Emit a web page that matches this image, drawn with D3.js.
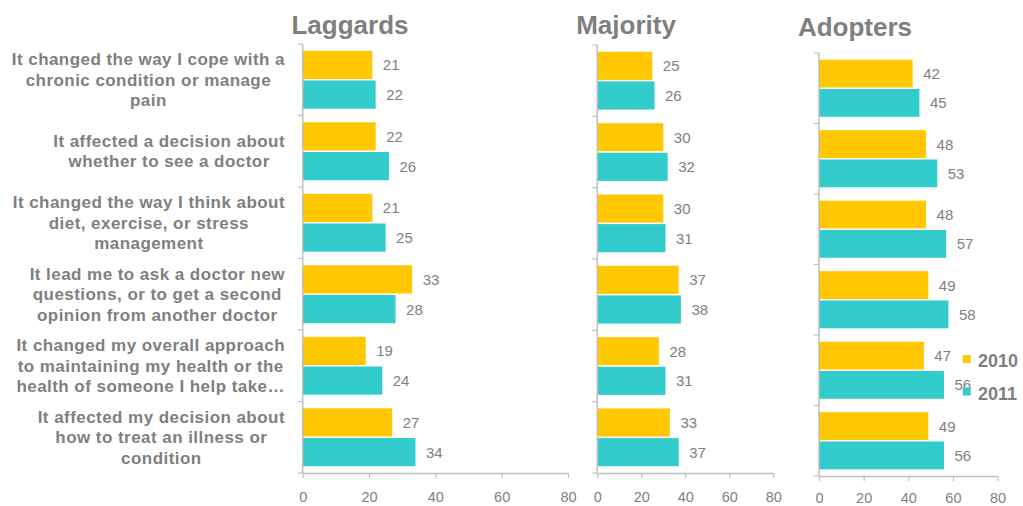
<!DOCTYPE html>
<html>
<head>
<meta charset="utf-8">
<script src="https://cdn.jsdelivr.net/npm/d3@7"></script>
<style>
  html, body { margin: 0; padding: 0; background: #ffffff; }
  svg { display: block; font-family: "Liberation Sans", Arial, sans-serif; }
</style>
</head>
<body>
<svg id="chart" width="1023" height="506"></svg>
<script>
// ---------- DATA ----------
const categories = [
  "It changed the way I cope with a chronic condition or manage pain",
  "It affected a decision about whether to see a doctor",
  "It changed the way I think about diet, exercise, or stress management",
  "It lead me to ask a doctor new questions, or to get a second opinion from another doctor",
  "It changed my overall approach to maintaining my health or the health of someone I help take…",
  "It affected my decision about how to treat an illness or condition"
];
const categoryLines = [
  ["It changed the way I cope with a", "chronic condition or manage", "pain"],
  ["It affected a decision about", "whether to see a doctor"],
  ["It changed the way I think about", "diet, exercise, or stress", "management"],
  ["It lead me to ask a doctor new", "questions, or to get a second", "opinion from another doctor"],
  ["It changed my overall approach", "to maintaining my health or the", "health of someone I help take…"],
  ["It affected my decision about", "how to treat an illness or", "condition"]
];
const seriesNames = ["2010", "2011"];
const groups = ["Laggards", "Majority", "Adopters"];
const laggards2010 = [21, 22, 21, 33, 19, 27];
const laggards2011 = [22, 26, 25, 28, 24, 34];
const majority2010 = [25, 30, 30, 37, 28, 33];
const majority2011 = [26, 32, 31, 38, 31, 37];
const adopters2010 = [42, 48, 48, 49, 47, 49];
const adopters2011 = [45, 53, 57, 58, 56, 56];
const xTicks = [0, 20, 40, 60, 80];

// ---------- LAYOUT / STYLE ----------
const colors = { "2010": "#FFC800", "2011": "#33CCCC" };
const textGray = "#7f7f7f";
const axisGray = "#bfbfbf";
const panelLayout = [
  { x0: 302.7, x1: 568.0, y0: 44, y1: 473, titleX: 350, titleY: 34, tickPad: 14 },
  { x0: 597.3, x1: 773.3, y0: 45, y1: 473, titleX: 626, titleY: 34, tickPad: 14 },
  { x0: 819.0, x1: 997.5, y0: 53, y1: 476, titleX: 855, titleY: 36, tickPad: 12 }
];
const panelValues = [
  [laggards2010, laggards2011],
  [majority2010, majority2011],
  [adopters2010, adopters2011]
];

const svg = d3.select("#chart");

panelLayout.forEach((p, pi) => {
  const g = svg.append("g");
  const x = d3.scaleLinear().domain([0, 80]).range([p.x0, p.x1]);
  const y = d3.scaleBand().domain(categories).range([p.y0, p.y1])
    .paddingInner(0.19).paddingOuter(0.095);
  const ys = d3.scaleBand().domain(seriesNames).range([0, y.bandwidth()]).paddingInner(0.05);

  // title
  g.append("text")
    .attr("x", p.titleX).attr("y", p.titleY)
    .attr("text-anchor", "middle")
    .attr("font-size", 26).attr("font-weight", "bold")
    .attr("fill", textGray)
    .text(groups[pi]);

  // bars
  const rows = [];
  categories.forEach((c, ci) => {
    seriesNames.forEach((s, si) => {
      rows.push({ cat: c, series: s, value: panelValues[pi][si][ci] });
    });
  });

  g.selectAll("rect.bar").data(rows).enter().append("rect")
    .attr("class", "bar")
    .attr("x", x(0))
    .attr("y", d => y(d.cat) + ys(d.series))
    .attr("width", d => x(d.value) - x(0))
    .attr("height", ys.bandwidth())
    .attr("fill", d => colors[d.series]);

  g.selectAll("text.val").data(rows).enter().append("text")
    .attr("class", "val")
    .attr("x", d => x(d.value) + 10.5)
    .attr("y", d => y(d.cat) + ys(d.series) + ys.bandwidth() / 2)
    .attr("dy", "0.36em")
    .attr("font-size", 15)
    .attr("fill", textGray)
    .text(d => d.value);

  // x axis
  const xAxis = d3.axisBottom(x).tickValues(xTicks).tickSize(5).tickSizeOuter(0).tickPadding(p.tickPad);
  const xg = g.append("g").attr("transform", `translate(0,${p.y1})`).call(xAxis);
  xg.select(".domain").attr("stroke", axisGray).attr("stroke-width", 1.5);
  xg.selectAll(".tick line").attr("stroke", axisGray).attr("stroke-width", 1.2);
  xg.selectAll(".tick text").attr("fill", textGray).attr("font-size", 14.5)
    .attr("font-family", "'Liberation Sans', Arial, sans-serif");

  // y axis line with boundary ticks (between categories)
  g.append("line")
    .attr("x1", x(0)).attr("x2", x(0))
    .attr("y1", p.y0).attr("y2", p.y1)
    .attr("stroke", axisGray).attr("stroke-width", 1.5);
  const boundaries = d3.range(categories.length + 1).map(i => p.y0 + i * y.step());
  g.selectAll("line.ytick").data(boundaries).enter().append("line")
    .attr("class", "ytick")
    .attr("x1", x(0) - 5).attr("x2", x(0))
    .attr("y1", d => d).attr("y2", d => d)
    .attr("stroke", axisGray).attr("stroke-width", 1.2);

  // category labels only for the first panel
  if (pi === 0) {
    const rightEdge = 285;
    const lineH = 20.5;
    const lg = svg.append("g").attr("font-size", 17).attr("font-weight", "bold")
      .attr("fill", textGray).attr("letter-spacing", "0.45px");
    categories.forEach((c, ci) => {
      const lines = categoryLines[ci];
      const cy = y(c) + y.bandwidth() / 2;
      const block = lg.append("text").attr("text-anchor", "middle");
      const tspans = lines.map((ln, li) => block.append("tspan")
        .attr("y", cy + (li - (lines.length - 1) / 2) * lineH)
        .attr("dy", "0.35em")
        .text(ln));
      let maxW = 0;
      tspans.forEach(t => { maxW = Math.max(maxW, t.node().getComputedTextLength()); });
      tspans.forEach(t => t.attr("x", rightEdge - maxW / 2));
    });
  }
});

// legend
const legend = svg.append("g");
const legendItems = [
  { name: "2010", sy: 355, ty: 367 },
  { name: "2011", sy: 387.5, ty: 400 }
];
legendItems.forEach(it => {
  legend.append("rect").attr("x", 962.7).attr("y", it.sy).attr("width", 8).attr("height", 8)
    .attr("fill", colors[it.name]);
  legend.append("text").attr("x", 978).attr("y", it.ty)
    .attr("font-size", 18).attr("font-weight", "bold").attr("fill", textGray)
    .text(it.name);
});
</script>
</body>
</html>
